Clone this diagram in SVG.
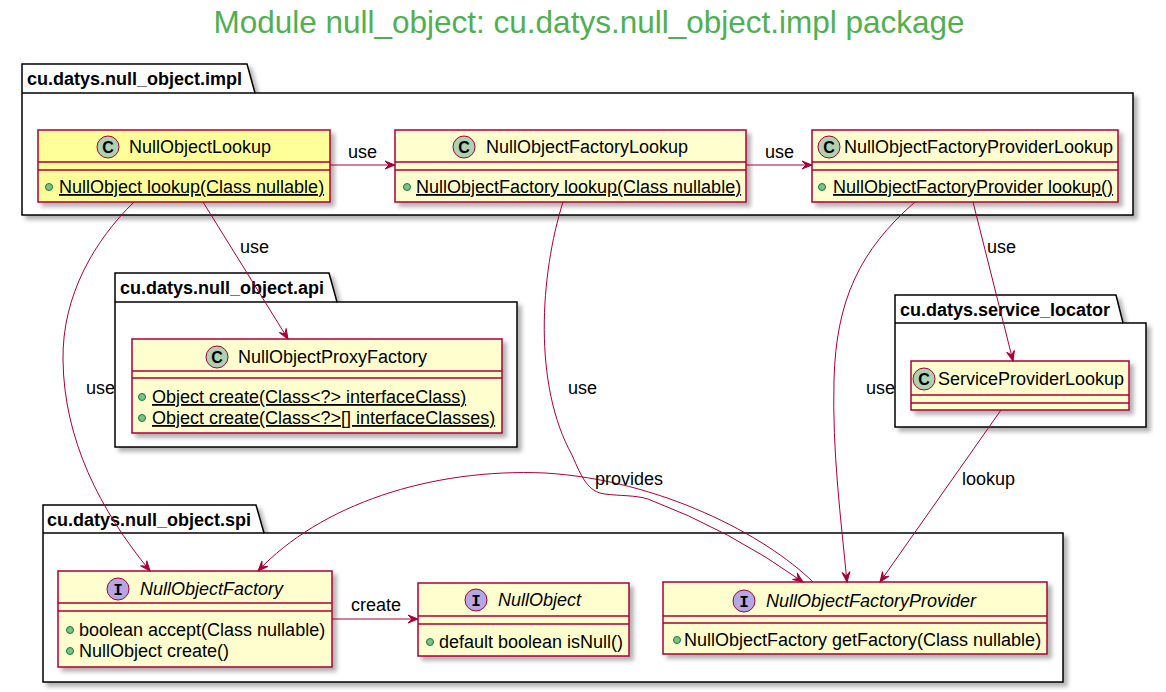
<svg xmlns="http://www.w3.org/2000/svg" width="1166" height="692" viewBox="0 0 1166 692">
<style>
text{font-family:"Liberation Sans",Arial,sans-serif;fill:#000}
.title{font-size:31.5px;fill:#50B050}
.pk{font-size:18px;font-weight:bold}
.nm{font-size:18px}
.it{font-style:italic}
.mb{font-size:18px}
.st{text-decoration:underline}
.lbl{font-size:18px}
.cls{fill:#FEFECE;stroke:#A80036;stroke-width:1.5}
.hl{fill:#FFFF99}
.sep{stroke:#A80036;stroke-width:1.5}
.pkg{fill:#FFFFFF;stroke:#000;stroke-width:1.5}
.cc{fill:#ADD1B2;stroke:#A80036;stroke-width:1}
.ci{fill:#B4A7E5;stroke:#A80036;stroke-width:1}
.cl{font-size:16px;font-weight:bold;text-anchor:middle}
.vis{fill:#84BE84;stroke:#038048;stroke-width:1}
.edge{fill:none;stroke:#A80036;stroke-width:1}
</style>
<defs>
<filter id="sh" x="-10%" y="-10%" width="130%" height="140%">
<feDropShadow dx="4" dy="4" stdDeviation="2" flood-color="#000" flood-opacity="0.3"/>
</filter>
<marker id="ar" viewBox="-11 -5 12 10" refX="0" refY="0" markerWidth="12" markerHeight="10" markerUnits="userSpaceOnUse" orient="auto">
<path d="M0,0 L-10,-4 L-6,0 L-10,4 Z" fill="#A80036" stroke="#A80036" stroke-width="1"/>
</marker>
</defs>
<rect width="1166" height="692" fill="#FFFFFF"/>
<text class="title" x="589" y="33" text-anchor="middle">Module null_object: cu.datys.null_object.impl package</text>

<g id="pkg-impl">
<path class="pkg" filter="url(#sh)" d="M22,93 L22,64 L247,64 L255,93 L1133,93 L1133,215 L22,215 Z"/>
<line x1="22" y1="93" x2="255" y2="93" stroke="#000" stroke-width="1.5"/>
<text class="pk" x="27" y="85">cu.datys.null_object.impl</text>
</g>
<g id="pkg-api">
<path class="pkg" filter="url(#sh)" d="M115,302 L115,273 L329,273 L337,302 L517,302 L517,447 L115,447 Z"/>
<line x1="115" y1="302" x2="337" y2="302" stroke="#000" stroke-width="1.5"/>
<text class="pk" x="120" y="294">cu.datys.null_object.api</text>
</g>
<g id="pkg-service_locator">
<path class="pkg" filter="url(#sh)" d="M895,323 L895,295 L1116,295 L1123,323 L1146,323 L1146,427 L895,427 Z"/>
<line x1="895" y1="323" x2="1123" y2="323" stroke="#000" stroke-width="1.5"/>
<text class="pk" x="900" y="316">cu.datys.service_locator</text>
</g>
<g id="pkg-spi">
<path class="pkg" filter="url(#sh)" d="M43,533 L43,505 L256,505 L264,533 L1063,533 L1063,682 L43,682 Z"/>
<line x1="43" y1="533" x2="264" y2="533" stroke="#000" stroke-width="1.5"/>
<text class="pk" x="47" y="526">cu.datys.null_object.spi</text>
</g>

<g id="NullObjectLookup">
<rect class="cls hl" filter="url(#sh)" x="38" y="130" width="292" height="72"/>
<line class="sep" x1="38" y1="162" x2="330" y2="162"/>
<line class="sep" x1="38" y1="170" x2="330" y2="170"/>
<circle class="cc" cx="108" cy="147" r="11"/>
<text class="cl" x="108" y="153">C</text>
<text class="nm" x="129" y="153">NullObjectLookup</text>
<circle class="vis" cx="49" cy="187" r="3.5"/>
<text class="mb st" x="59" y="193">NullObject lookup(Class nullable)</text>
</g>

<g id="NullObjectFactoryLookup">
<rect class="cls" filter="url(#sh)" x="395" y="130" width="351" height="72"/>
<line class="sep" x1="395" y1="162" x2="746" y2="162"/>
<line class="sep" x1="395" y1="170" x2="746" y2="170"/>
<circle class="cc" cx="464" cy="147" r="11"/>
<text class="cl" x="464" y="153">C</text>
<text class="nm" x="486" y="153">NullObjectFactoryLookup</text>
<circle class="vis" cx="407" cy="187" r="3.5"/>
<text class="mb st" x="416" y="193">NullObjectFactory lookup(Class nullable)</text>
</g>

<g id="NullObjectFactoryProviderLookup">
<rect class="cls" filter="url(#sh)" x="812" y="130" width="306" height="72"/>
<line class="sep" x1="812" y1="162" x2="1118" y2="162"/>
<line class="sep" x1="812" y1="170" x2="1118" y2="170"/>
<circle class="cc" cx="829" cy="147" r="11"/>
<text class="cl" x="829" y="153">C</text>
<text class="nm" x="844" y="153">NullObjectFactoryProviderLookup</text>
<circle class="vis" cx="822" cy="187" r="3.5"/>
<text class="mb st" x="833" y="193">NullObjectFactoryProvider lookup()</text>
</g>

<g id="NullObjectProxyFactory">
<rect class="cls" filter="url(#sh)" x="132" y="339" width="370" height="94"/>
<line class="sep" x1="132" y1="371" x2="502" y2="371"/>
<line class="sep" x1="132" y1="378" x2="502" y2="378"/>
<circle class="cc" cx="217" cy="357" r="11"/>
<text class="cl" x="217" y="363">C</text>
<text class="nm" x="238" y="363">NullObjectProxyFactory</text>
<circle class="vis" cx="142" cy="397" r="3.5"/>
<text class="mb st" x="152" y="403">Object create(Class&lt;?&gt; interfaceClass)</text>
<circle class="vis" cx="142" cy="418" r="3.5"/>
<text class="mb st" x="152" y="424">Object create(Class&lt;?&gt;[] interfaceClasses)</text>
</g>

<g id="ServiceProviderLookup">
<rect class="cls" filter="url(#sh)" x="911" y="361" width="218" height="49"/>
<line class="sep" x1="911" y1="395" x2="1129" y2="395"/>
<line class="sep" x1="911" y1="403" x2="1129" y2="403"/>
<circle class="cc" cx="924" cy="379" r="11"/>
<text class="cl" x="924" y="385">C</text>
<text class="nm" x="938" y="385">ServiceProviderLookup</text>
</g>

<g id="NullObjectFactory">
<rect class="cls" filter="url(#sh)" x="58" y="571" width="274" height="96"/>
<line class="sep" x1="58" y1="603" x2="332" y2="603"/>
<line class="sep" x1="58" y1="611" x2="332" y2="611"/>
<circle class="ci" cx="118" cy="589" r="11"/>
<text class="cl" x="118" y="595" style="font-family:'Liberation Mono',monospace">I</text>
<text class="nm it" x="140" y="595">NullObjectFactory</text>
<circle class="vis" cx="70" cy="630" r="3.5"/>
<text class="mb" x="79" y="636">boolean accept(Class nullable)</text>
<circle class="vis" cx="70" cy="651" r="3.5"/>
<text class="mb" x="79" y="657">NullObject create()</text>
</g>

<g id="NullObject">
<rect class="cls" filter="url(#sh)" x="418" y="583" width="211" height="73"/>
<line class="sep" x1="418" y1="616" x2="629" y2="616"/>
<line class="sep" x1="418" y1="624" x2="629" y2="624"/>
<circle class="ci" cx="476" cy="600" r="11"/>
<text class="cl" x="476" y="606" style="font-family:'Liberation Mono',monospace">I</text>
<text class="nm it" x="498" y="606">NullObject</text>
<circle class="vis" cx="430" cy="642" r="3.5"/>
<text class="mb" x="439" y="648">default boolean isNull()</text>
</g>

<g id="NullObjectFactoryProvider">
<rect class="cls" filter="url(#sh)" x="663" y="582" width="384" height="72"/>
<line class="sep" x1="663" y1="616" x2="1047" y2="616"/>
<line class="sep" x1="663" y1="623" x2="1047" y2="623"/>
<circle class="ci" cx="744" cy="601" r="11"/>
<text class="cl" x="744" y="607" style="font-family:'Liberation Mono',monospace">I</text>
<text class="nm it" x="766" y="607">NullObjectFactoryProvider</text>
<circle class="vis" cx="677" cy="640" r="3.5"/>
<text class="mb" x="684" y="646">NullObjectFactory getFactory(Class nullable)</text>
</g>

<g id="connectors">
<path class="edge" marker-end="url(#ar)" d="M330,165 L395,165"/>
<text class="lbl" x="348" y="158">use</text>
<path class="edge" marker-end="url(#ar)" d="M746,165 L812,165"/>
<text class="lbl" x="765" y="158">use</text>
<path class="edge" marker-end="url(#ar)" d="M203,202 L288,339"/>
<text class="lbl" x="240" y="253">use</text>
<path class="edge" marker-end="url(#ar)" d="M134,202 C95,240 62,295 63,360 C64,440 100,510 150,571"/>
<text class="lbl" x="86" y="394">use</text>
<path class="edge" marker-end="url(#ar)" d="M563,202 C540,275 533,385 572,455 C582,478 588,492 605,494 C620,496 635,495 648,499 Q730,530 803,582"/>
<text class="lbl" x="568" y="394">use</text>
<path class="edge" marker-end="url(#ar)" d="M813,582 C765,535 660,480 545,473 C430,468 320,505 258,571"/>
<text class="lbl" x="595" y="485">provides</text>
<path class="edge" marker-end="url(#ar)" d="M915,202 C860,250 836,300 834,380 C832,450 841,520 847,582"/>
<text class="lbl" x="866" y="394">use</text>
<path class="edge" marker-end="url(#ar)" d="M973,202 L1013,361"/>
<text class="lbl" x="987" y="253">use</text>
<path class="edge" marker-end="url(#ar)" d="M1001,410 L880,582"/>
<text class="lbl" x="962" y="485">lookup</text>
<path class="edge" marker-end="url(#ar)" d="M332,619 L418,619"/>
<text class="lbl" x="351" y="611">create</text>
</g>
</svg>
